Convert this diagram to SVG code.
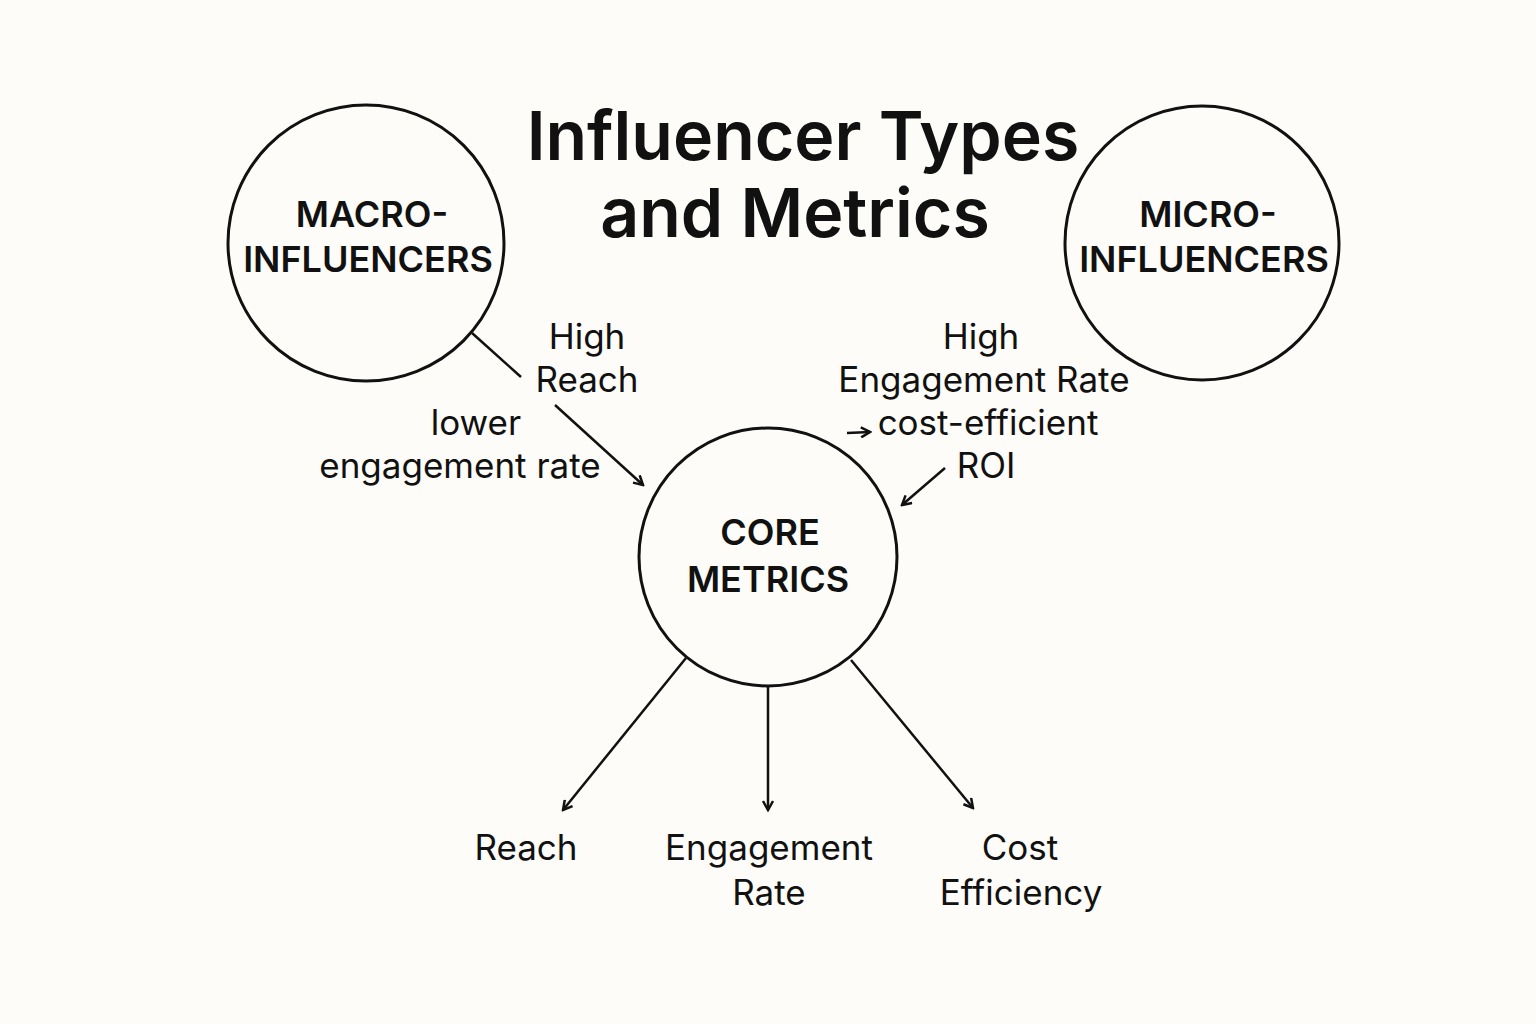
<svg xmlns="http://www.w3.org/2000/svg" width="1536" height="1024" viewBox="0 0 1536 1024">
<style>
.c{fill:none;stroke:#111;stroke-width:3}
.l{fill:none;stroke:#111;stroke-width:2.5}
.t{font-family:Inter,"Liberation Sans",sans-serif;fill:#111;text-anchor:middle}
.b{font-weight:600;font-size:36px}
.n{font-size:35px}
</style>
<defs><marker id="a" markerWidth="12" markerHeight="12" refX="10" refY="6" orient="auto" markerUnits="userSpaceOnUse"><path d="M1,1 L10,6 L1,11" fill="none" stroke="#111" stroke-width="2.5"/></marker></defs>
<rect width="1536" height="1024" fill="#fdfcf8"/>
<g id="title"><text class="t" x="803" y="160" font-size="68" font-weight="600">Influencer Types</text><text class="t" x="795" y="237" font-size="68" font-weight="600">and Metrics</text></g>
<g id="macro"><circle class="c" cx="366" cy="243" r="138"/><text class="t b" x="372" y="227">MACRO-</text><text class="t b" x="368" y="272">INFLUENCERS</text></g>
<g id="micro"><circle class="c" cx="1202" cy="243" r="137"/><text class="t b" x="1208" y="227">MICRO-</text><text class="t b" x="1204" y="272">INFLUENCERS</text></g>
<g id="core"><circle class="c" cx="768" cy="557" r="129"/><text class="t b" x="770" y="545">CORE</text><text class="t b" x="768" y="592">METRICS</text></g>
<g id="labels">
<text class="t n" x="587" y="349">High</text><text class="t n" x="587" y="392">Reach</text>
<text class="t n" x="476" y="435">lower</text><text class="t n" x="460" y="478">engagement rate</text>
<text class="t n" x="981" y="349">High</text><text class="t n" x="984" y="392">Engagement Rate</text>
<text class="t n" x="988" y="435">cost-efficient</text><text class="t n" x="986" y="478">ROI</text>
<text class="t n" x="526" y="860">Reach</text>
<text class="t n" x="769" y="860">Engagement</text><text class="t n" x="769" y="905">Rate</text>
<text class="t n" x="1020" y="860">Cost</text><text class="t n" x="1021" y="905">Efficiency</text>
</g>
<g id="connectors">
<line class="l" x1="472" y1="333" x2="521" y2="377"/>
<line class="l" x1="555" y1="405" x2="643" y2="485" marker-end="url(#a)"/>
<line class="l" x1="847" y1="433" x2="870" y2="432" marker-end="url(#a)"/>
<line class="l" x1="945" y1="468" x2="902" y2="505" marker-end="url(#a)"/>
<line class="l" x1="686" y1="658" x2="563" y2="810" marker-end="url(#a)"/>
<line class="l" x1="768" y1="686" x2="768" y2="810" marker-end="url(#a)"/>
<line class="l" x1="851" y1="660" x2="973" y2="808" marker-end="url(#a)"/>
</g>
</svg>
